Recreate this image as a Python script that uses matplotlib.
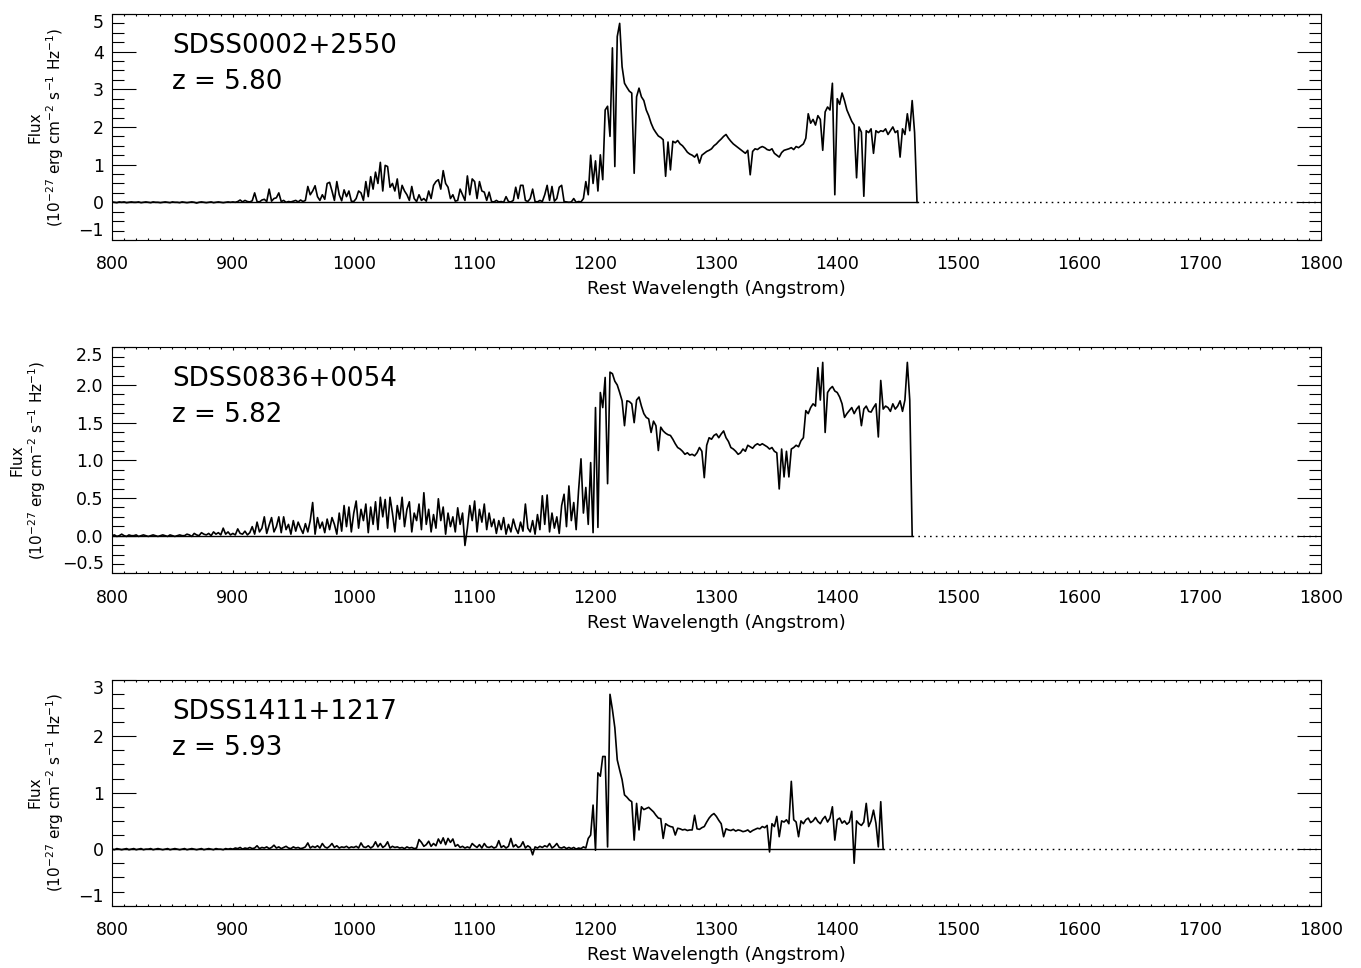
import numpy as np
import matplotlib
matplotlib.use('Agg')
from matplotlib import pyplot as plt
from matplotlib.ticker import MultipleLocator, FuncFormatter

plt.rcParams['font.family'] = 'DejaVu Sans'

names = ['SDSS0002+2550', 'SDSS0836+0054', 'SDSS1411+1217']
redshifts = ['5.80', '5.82', '5.93']

# rest-frame flux (1e-27 erg/cm^2/s/Hz), one value every 2 A starting at 800 A
flux_0002 = [
    0.01, 0.00, -0.01, 0.01, 0.00, 0.01, -0.01, 0.00, 0.01, 0.00,   # 800
    0.00, 0.01, -0.01, 0.00, 0.01, 0.00, -0.01, 0.01, 0.00, 0.00,   # 820
    -0.01, 0.00, 0.01, 0.00, -0.01, 0.01, 0.00, 0.00, -0.01, 0.01,  # 840
    0.00, -0.01, 0.00, 0.01, 0.00, -0.02, 0.00, 0.01, 0.00, -0.01,  # 860
    0.00, 0.01, -0.01, 0.00, 0.01, 0.00, -0.01, 0.00, 0.01, 0.00,   # 880
    0.01, 0.00, 0.02, 0.06, 0.01, 0.05, 0.02, 0.01, 0.04, 0.25,     # 900
    0.02, 0.01, 0.06, 0.08, 0.02, 0.35, 0.03, 0.10, 0.12, 0.25,     # 920
    0.02, 0.05, 0.00, 0.02, 0.01, 0.03, 0.05, 0.01, 0.06, 0.02,     # 940
    0.05, 0.42, 0.20, 0.30, 0.44, 0.15, 0.05, 0.20, 0.08, 0.50,     # 960
    0.53, 0.30, 0.05, 0.55, 0.20, 0.04, 0.33, 0.15, 0.30, 0.03,     # 980
    0.02, 0.10, 0.30, 0.25, 0.05, 0.55, 0.15, 0.68, 0.35, 0.80,     # 1000
    0.50, 1.06, 0.30, 0.98, 0.95, 0.40, 0.50, 0.30, 0.62, 0.10,     # 1020
    0.45, 0.30, 0.20, 0.05, 0.42, 0.10, 0.02, 0.20, 0.05, 0.10,     # 1040
    0.03, 0.30, 0.10, 0.45, 0.55, 0.60, 0.35, 0.84, 0.50, 0.40,     # 1060
    0.10, 0.20, 0.03, 0.05, 0.35, 0.20, 0.05, 0.70, 0.20, 0.62,     # 1080
    0.55, 0.10, 0.55, 0.30, 0.27, 0.05, 0.27, 0.02, 0.01, 0.05,     # 1100
    0.01, 0.02, 0.00, 0.15, 0.02, 0.01, 0.05, 0.40, 0.10, 0.45,     # 1120
    0.45, 0.05, 0.02, 0.10, 0.35, 0.02, 0.01, 0.05, 0.02, 0.20,     # 1140
    0.45, 0.05, 0.42, 0.03, 0.10, 0.40, 0.45, 0.02, 0.01, 0.00,     # 1160
    0.01, 0.10, 0.00, 0.02, 0.01, 0.10, 0.55, 0.20, 1.25, 0.50,     # 1180
    1.10, 0.30, 1.26, 0.60, 2.45, 2.55, 1.75, 4.10, 0.95, 4.40,     # 1200
    4.75, 3.60, 3.16, 3.05, 2.95, 2.90, 0.77, 2.80, 3.03, 2.80,     # 1220
    2.70, 2.45, 2.30, 2.10, 1.95, 1.85, 1.76, 1.72, 1.66, 0.69,     # 1240
    1.60, 0.86, 1.62, 1.58, 1.64, 1.55, 1.50, 1.42, 1.33, 1.28,     # 1260
    1.25, 1.20, 1.28, 1.04, 1.25, 1.30, 1.35, 1.38, 1.42, 1.50,     # 1280
    1.55, 1.62, 1.68, 1.75, 1.80, 1.70, 1.62, 1.55, 1.50, 1.45,     # 1300
    1.40, 1.35, 1.30, 1.38, 0.73, 1.35, 1.42, 1.40, 1.45, 1.48,     # 1320
    1.45, 1.40, 1.38, 1.42, 1.30, 1.25, 1.20, 1.32, 1.38, 1.40,     # 1340
    1.42, 1.45, 1.40, 1.48, 1.45, 1.50, 1.55, 1.70, 2.35, 2.10,     # 1360
    2.20, 2.05, 2.30, 2.20, 1.38, 2.40, 2.53, 2.45, 3.16, 0.20,     # 1380
    2.75, 2.60, 2.90, 2.70, 2.45, 2.30, 2.15, 2.05, 0.65, 2.00,     # 1400
    1.86, 0.16, 1.90, 1.85, 1.95, 1.30, 1.90, 1.85, 1.90, 1.88,     # 1420
    1.95, 1.80, 1.90, 2.00, 1.85, 1.90, 1.20, 1.95, 1.80, 2.35,     # 1440
    1.90, 2.70, 1.85, 0.00,                                         # 1460
]

flux_0836 = [
    0.00, 0.01, -0.01, 0.00, 0.02, 0.00, -0.01, 0.01, 0.00, 0.00,   # 800
    0.01, -0.01, 0.00, 0.01, 0.00, -0.01, 0.00, 0.01, 0.00, -0.01,  # 820
    0.00, 0.01, 0.00, -0.01, 0.01, 0.00, -0.01, 0.00, 0.01, 0.00,   # 840
    0.00, 0.02, 0.01, -0.01, 0.03, 0.01, 0.00, 0.04, 0.02, 0.01,    # 860
    0.03, 0.00, 0.05, 0.02, 0.04, 0.01, 0.10, 0.02, 0.05, 0.01,     # 880
    0.03, 0.01, 0.09, 0.03, 0.02, 0.06, 0.01, 0.04, 0.12, 0.02,     # 900
    0.18, 0.05, 0.10, 0.25, 0.03, 0.14, 0.24, 0.05, 0.12, 0.25,     # 920
    0.04, 0.25, 0.08, 0.15, 0.02, 0.20, 0.06, 0.18, 0.10, 0.03,     # 940
    0.16, 0.05, 0.20, 0.44, 0.02, 0.24, 0.10, 0.18, 0.04, 0.22,     # 960
    0.08, 0.24, 0.15, 0.02, 0.30, 0.06, 0.40, 0.12, 0.38, 0.05,     # 980
    0.30, 0.46, 0.10, 0.35, 0.20, 0.42, 0.04, 0.38, 0.15, 0.45,     # 1000
    0.08, 0.51, 0.25, 0.48, 0.10, 0.51, 0.30, 0.05, 0.40, 0.22,     # 1020
    0.51, 0.12, 0.35, 0.45, 0.05, 0.30, 0.20, 0.42, 0.08, 0.57,     # 1040
    0.15, 0.35, 0.05, 0.28, 0.10, 0.49, 0.20, 0.38, 0.02, 0.30,     # 1060
    0.12, 0.25, 0.05, 0.37, 0.15, 0.30, -0.13, 0.10, 0.40, 0.20,    # 1080
    0.46, 0.05, 0.35, 0.18, 0.42, 0.08, 0.30, 0.12, 0.22, 0.03,     # 1100
    0.20, 0.08, 0.24, 0.02, 0.15, 0.05, 0.22, 0.10, 0.03, 0.18,     # 1120
    0.06, 0.42, 0.10, 0.05, 0.20, 0.02, 0.28, 0.08, 0.53, 0.15,     # 1140
    0.54, 0.05, 0.30, 0.10, 0.25, 0.03, 0.40, 0.55, 0.12, 0.66,     # 1160
    0.20, 0.44, 0.08, 0.60, 1.02, 0.30, 0.64, 0.15, 0.97, 0.04,     # 1180
    1.70, 0.11, 1.90, 1.70, 2.10, 0.69, 2.17, 2.15, 2.05, 2.00,     # 1200
    1.90, 1.79, 1.46, 1.79, 1.78, 1.75, 1.50, 1.80, 1.84, 1.72,     # 1220
    1.62, 1.57, 1.55, 1.37, 1.52, 1.46, 1.13, 1.44, 1.39, 1.36,     # 1240
    1.34, 1.33, 1.28, 1.22, 1.17, 1.15, 1.12, 1.08, 1.10, 1.07,     # 1260
    1.08, 1.06, 1.10, 1.17, 1.12, 0.77, 1.20, 1.30, 1.28, 1.33,     # 1280
    1.35, 1.30, 1.35, 1.39, 1.30, 1.25, 1.17, 1.15, 1.12, 1.08,     # 1300
    1.10, 1.15, 1.12, 1.20, 1.18, 1.16, 1.20, 1.22, 1.20, 1.22,     # 1320
    1.20, 1.18, 1.15, 1.17, 1.12, 1.10, 0.62, 1.15, 0.78, 1.12,     # 1340
    0.78, 1.15, 1.17, 1.20, 1.18, 1.26, 1.30, 1.66, 1.62, 1.70,     # 1360
    1.75, 1.72, 2.23, 1.80, 2.30, 1.37, 1.90, 1.95, 1.98, 1.92,     # 1380
    1.90, 1.84, 1.75, 1.57, 1.62, 1.66, 1.70, 1.62, 1.68, 1.72,     # 1400
    1.46, 1.68, 1.72, 1.65, 1.64, 1.70, 1.75, 1.31, 2.06, 1.68,     # 1420
    1.72, 1.70, 1.65, 1.75, 1.68, 1.72, 1.79, 1.65, 1.80, 2.30,     # 1440
    1.80, 0.00,                                                     # 1460
]

flux_1411 = [
    0.00, -0.01, 0.01, 0.00, -0.01, 0.00, 0.01, -0.01, 0.00, 0.01,  # 800
    -0.01, 0.00, 0.01, -0.01, 0.00, 0.00, 0.01, -0.01, 0.00, 0.01,  # 820
    0.00, -0.01, 0.00, 0.01, -0.01, 0.00, 0.01, 0.00, -0.01, 0.00,  # 840
    0.01, -0.01, 0.00, 0.01, 0.00, -0.01, 0.00, 0.01, -0.01, 0.00,  # 860
    0.01, 0.00, -0.01, 0.01, 0.00, 0.00, -0.01, 0.01, 0.00, 0.01,   # 880
    0.00, 0.02, 0.01, 0.03, 0.00, 0.02, 0.01, 0.03, 0.01, 0.02,     # 900
    0.06, 0.01, 0.03, 0.02, 0.04, 0.01, 0.03, 0.07, 0.02, 0.04,     # 920
    0.01, 0.03, 0.05, 0.02, 0.01, 0.04, 0.02, 0.03, 0.01, 0.02,     # 940
    0.04, 0.11, 0.02, 0.05, 0.03, 0.06, 0.02, 0.10, 0.04, 0.02,     # 960
    0.05, 0.10, 0.03, 0.06, 0.02, 0.04, 0.03, 0.05, 0.02, 0.04,     # 980
    0.03, 0.05, 0.02, 0.11, 0.04, 0.03, 0.06, 0.02, 0.05, 0.13,     # 1000
    0.04, 0.10, 0.03, 0.06, 0.13, 0.02, 0.05, 0.03, 0.04, 0.02,     # 1020
    0.03, 0.01, 0.04, 0.02, 0.03, 0.01, 0.02, 0.17, 0.12, 0.05,     # 1040
    0.08, 0.14, 0.05, 0.10, 0.06, 0.18, 0.10, 0.20, 0.08, 0.19,     # 1060
    0.12, 0.18, 0.05, 0.08, 0.03, 0.05, 0.02, 0.04, 0.02, 0.10,     # 1080
    0.06, 0.03, 0.08, 0.02, 0.10, 0.04, 0.03, 0.05, 0.02, 0.04,     # 1100
    0.15, 0.03, 0.06, 0.02, 0.05, 0.19, 0.04, 0.08, 0.03, 0.05,     # 1120
    0.13, 0.02, 0.06, 0.03, -0.10, 0.04, 0.02, 0.05, 0.03, 0.06,    # 1140
    0.04, 0.10, 0.02, 0.05, 0.10, 0.03, 0.02, 0.04, 0.01, 0.03,     # 1160
    0.01, 0.03, 0.00, 0.02, 0.01, 0.04, 0.02, 0.19, 0.25, 0.78,     # 1180
    -0.02, 1.35, 1.29, 1.64, 1.64, 0.04, 2.74, 2.47, 2.15, 1.58,    # 1200
    1.40, 1.23, 0.96, 0.92, 0.87, 0.84, 0.16, 0.81, 0.34, 0.75,     # 1220
    0.70, 0.72, 0.74, 0.70, 0.66, 0.60, 0.55, 0.54, 0.19, 0.45,     # 1240
    0.42, 0.40, 0.39, 0.25, 0.37, 0.36, 0.34, 0.35, 0.33, 0.34,     # 1260
    0.34, 0.60, 0.36, 0.35, 0.38, 0.40, 0.48, 0.55, 0.60, 0.63,     # 1280
    0.58, 0.51, 0.45, 0.22, 0.36, 0.34, 0.33, 0.35, 0.32, 0.34,     # 1300
    0.33, 0.31, 0.32, 0.34, 0.30, 0.33, 0.35, 0.37, 0.36, 0.40,     # 1320
    0.38, 0.42, -0.05, 0.45, 0.40, 0.58, 0.22, 0.50, 0.48, 0.52,    # 1340
    0.45, 1.20, 0.52, 0.48, 0.22, 0.50, 0.45, 0.52, 0.55, 0.47,     # 1360
    0.50, 0.56, 0.49, 0.45, 0.53, 0.58, 0.48, 0.55, 0.75, 0.16,     # 1380
    0.52, 0.55, 0.46, 0.50, 0.44, 0.48, 0.67, -0.25, 0.50, 0.45,    # 1400
    0.42, 0.48, 0.81, 0.40, 0.50, 0.69, 0.46, 0.04, 0.84, 0.00,     # 1420
]

spectra = [flux_0002, flux_0836, flux_1411]
y_ranges = [(-1, 5), (-0.5, 2.5), (-1, 3)]
y_steps = [1, 0.5, 1]
y_formats = ['{:.0f}', '{:.1f}', '{:.0f}']
label_x = [-0.038, -0.053, -0.038]

ylabel = 'Flux\n(10$^{-27}$ erg cm$^{-2}$ s$^{-1}$ Hz$^{-1}$)'


def plot_panel(ax, flux, name, z, yrange, ystep, yfmt, lab_x):
    wave = 800 + 2 * np.arange(len(flux))
    ax.plot(wave, flux, c='k', lw=1.2)
    # zero level: solid under the data, dotted beyond it
    ax.plot([800, wave[-1]], [0, 0], c='k', lw=1.0)
    ax.plot([wave[-1], 1800], [0, 0], c='k', lw=1.0, ls=(0, (1.2, 3)))

    ax.set_xlim(800, 1800)
    ax.set_ylim(*yrange)
    ax.xaxis.set_major_locator(MultipleLocator(100))
    ax.xaxis.set_minor_locator(MultipleLocator(10))
    ax.set_yticks(np.arange(yrange[0], yrange[1] + ystep / 2, ystep))
    ax.yaxis.set_minor_locator(MultipleLocator(ystep / 4))
    ax.yaxis.set_major_formatter(
        FuncFormatter(lambda v, p: yfmt.format(v).replace('-', '\u2212')))

    ax.tick_params(which='both', direction='in', top=True, right=True,
                   width=0.8, labelsize=12.5)
    ax.tick_params(axis='x', which='major', length=2.5, pad=11)
    ax.tick_params(axis='x', which='minor', length=1.4)
    ax.tick_params(axis='y', which='major', length=17, pad=6)
    ax.tick_params(axis='y', which='minor', length=8.5)
    for s in ax.spines.values():
        s.set_linewidth(0.8)

    yticks = ax.yaxis.get_major_ticks()
    yticks[0].label1.set_va('bottom')
    yticks[-1].label1.set_va('top')

    ax.set_xlabel('Rest Wavelength (Angstrom)', fontsize=13, labelpad=5)
    ax.set_ylabel(ylabel, fontsize=11, linespacing=1.1)
    ax.yaxis.set_label_coords(lab_x, 0.5)

    ax.text(0.0496, 0.828, name, transform=ax.transAxes, fontsize=18.8,
            va='baseline')
    ax.text(0.0496, 0.668, 'z = ' + z, transform=ax.transAxes, fontsize=18.8,
            va='baseline')


def main():
    fig = plt.figure(figsize=(13.61, 9.68), dpi=100)
    bottoms = [0.7521, 0.4077, 0.0644]
    for i in range(3):
        ax = fig.add_axes([0.0823, bottoms[i], 0.8881, 0.2335])
        plot_panel(ax, spectra[i], names[i], redshifts[i], y_ranges[i],
                   y_steps[i], y_formats[i], label_x[i])
    fig.savefig('out.png', dpi=100)


if __name__ == "__main__":
    main()
